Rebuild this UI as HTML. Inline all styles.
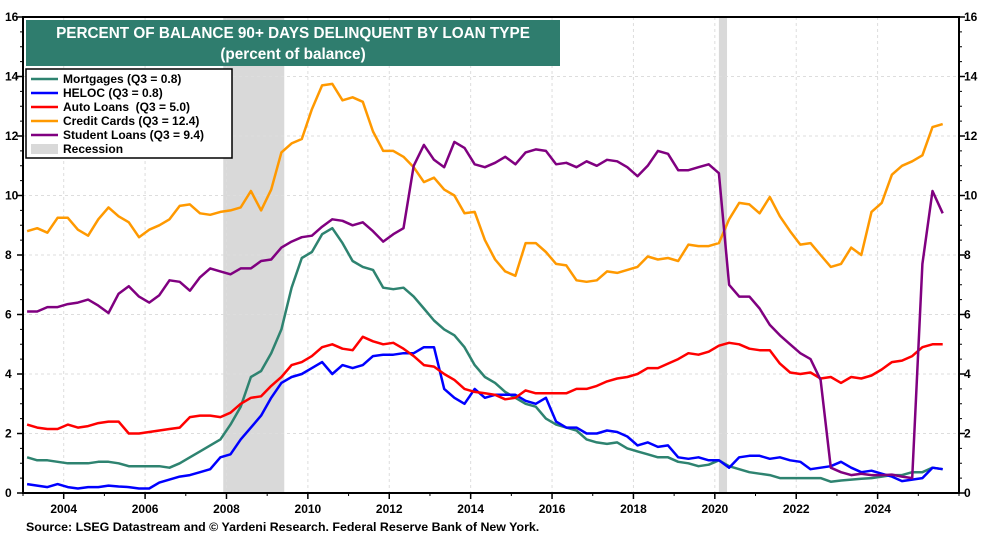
<!DOCTYPE html>
<html><head><meta charset="utf-8"><style>
body{margin:0;background:#fff;font-family:"Liberation Sans",Arial,sans-serif}
svg text{font-family:"Liberation Sans",Arial,sans-serif;font-weight:bold}
</style></head><body>
<svg id="c" width="987" height="551" viewBox="0 0 987 551"></svg>
<script>
const mortgages=[1.2,1.1,1.1,1.05, 1.0,1.0,1.0,1.05, 1.05,1.0,0.9,0.9, 0.9,0.9,0.85,1.0, 1.2,1.4,1.6,1.8, 2.3,2.9,3.9,4.1, 4.7,5.5,6.9,7.9, 8.1,8.7,8.9,8.4, 7.8,7.6,7.5,6.9, 6.85,6.9,6.6,6.2, 5.8,5.5,5.3,4.9, 4.3,3.9,3.7,3.4, 3.2,3.0,2.9,2.5, 2.3,2.2,2.1,1.8, 1.7,1.65,1.7,1.5, 1.4,1.3,1.2,1.2, 1.05,1.0,0.9,0.95, 1.1,0.9,0.8,0.7, 0.65,0.6,0.5,0.5, 0.5,0.5,0.5,0.38, 0.42,0.45,0.48,0.5, 0.55,0.6,0.6,0.7, 0.7,0.85,0.8];
const heloc=[0.3,0.25,0.2,0.3, 0.2,0.15,0.2,0.2, 0.25,0.22,0.2,0.15, 0.15,0.35,0.45,0.55, 0.6,0.7,0.8,1.2, 1.3,1.8,2.2,2.6, 3.2,3.7,3.9,4.0, 4.2,4.4,4.0,4.3, 4.2,4.3,4.6,4.65, 4.65,4.7,4.7,4.9, 4.9,3.5,3.2,3.0, 3.5,3.2,3.3,3.3, 3.3,3.1,3.0,3.2, 2.4,2.2,2.2,2.0, 2.0,2.1,2.05,1.9, 1.6,1.7,1.55,1.6, 1.2,1.15,1.2,1.1, 1.1,0.85,1.2,1.25, 1.25,1.15,1.2,1.1, 1.05,0.8,0.85,0.9, 1.05,0.85,0.7,0.75, 0.65,0.55,0.4,0.45, 0.5,0.85,0.8];
const autoLoans=[2.3,2.2,2.15,2.15, 2.3,2.2,2.25,2.35, 2.4,2.4,2.0,2.0, 2.05,2.1,2.15,2.2, 2.55,2.6,2.6,2.55, 2.7,3.0,3.2,3.25, 3.6,3.9,4.3,4.4, 4.6,4.9,5.0,4.85, 4.8,5.25,5.1,5.0, 5.05,4.85,4.6,4.3, 4.25,4.0,3.8,3.5, 3.4,3.35,3.3,3.15, 3.2,3.45,3.35,3.35, 3.35,3.35,3.5,3.5, 3.6,3.75,3.85,3.9, 4.0,4.2,4.2,4.35, 4.5,4.7,4.65,4.75, 4.95,5.05,5.0,4.85, 4.8,4.8,4.35,4.05, 4.0,4.05,3.85,3.9, 3.7,3.9,3.85,3.95, 4.15,4.4,4.45,4.6, 4.9,5.0,5.0];
const creditCards=[8.8,8.9,8.75,9.25, 9.25,8.85,8.65,9.2, 9.6,9.3,9.1,8.6, 8.85,9.0,9.2,9.65, 9.7,9.4,9.35,9.45, 9.5,9.6,10.15,9.5, 10.2,11.45,11.75,11.9, 12.9,13.7,13.75,13.2, 13.3,13.15,12.15,11.5, 11.5,11.3,10.95,10.45, 10.6,10.2,10.0,9.4, 9.45,8.5,7.85,7.45, 7.3,8.4,8.4,8.1, 7.7,7.65,7.15,7.1, 7.15,7.45,7.4,7.5, 7.6,7.95,7.85,7.9, 7.8,8.35,8.3,8.3, 8.4,9.2,9.75,9.7, 9.4,9.95,9.3,8.8, 8.35,8.4,8.0,7.6, 7.7,8.25,8.0,9.45, 9.75,10.7,11.0,11.15, 11.35,12.3,12.4];
const studentLoans=[6.1,6.1,6.25,6.25, 6.35,6.4,6.5,6.3, 6.05,6.7,6.95,6.6, 6.4,6.65,7.15,7.1, 6.8,7.25,7.55,7.45, 7.35,7.55,7.55,7.8, 7.85,8.25,8.45,8.6, 8.65,8.95,9.2,9.15, 9.0,9.1,8.8,8.45, 8.7,8.9,11.0,11.7, 11.2,10.95,11.8,11.6, 11.05,10.95,11.1,11.3, 11.05,11.45,11.55,11.5, 11.05,11.1,10.95,11.15, 11.0,11.2,11.15,10.95, 10.65,11.0,11.5,11.4, 10.85,10.85,10.95,11.05, 10.75,7.0,6.6,6.6, 6.2,5.65,5.3,5.0, 4.7,4.5,3.8,0.85, 0.7,0.6,0.65,0.6, 0.6,0.62,0.55,0.5, 7.7,10.15,9.4];
const yTicks=[0,2,4,6,8,10,12,14,16];
const xTicks=[2004,2006,2008,2010,2012,2014,2016,2018,2020,2022,2024];
const recessions=[[2007.92,2009.42],[2020.1,2020.3]];
const startYear=2003;

const L=23,R=959,T=17,B=493;
const X=t=>L+(t-2003)/(2026-2003)*(R-L);
const Y=v=>B-v/16*(B-T);
const tq=i=>startYear+Math.floor(i/4)+(i%4)/4+0.1;
const svg=document.getElementById('c');const NS='http://www.w3.org/2000/svg';
function mk(tag,a,p){const e=document.createElementNS(NS,tag);for(const k in a)e.setAttribute(k,a[k]);(p||svg).appendChild(e);return e;}

recessions.forEach(r=>{const e=mk('rect',{x:X(r[0]),y:T,width:X(r[1])-X(r[0]),height:B-T,fill:'#d9d9d9'});

});
yTicks.forEach(v=>{const g=mk('line',{x1:L,x2:R,y1:Y(v),y2:Y(v),stroke:'#ddd','stroke-dasharray':'3,3'});


[[5,'start'],[964,'start']].forEach(p=>{const t=mk('text',{x:p[0],y:Y(v)+4,'font-size':12});t.textContent=v;

});
mk('line',{x1:L-6,x2:L,y1:Y(v),y2:Y(v),stroke:'#000','stroke-width':1.5});
mk('line',{x1:R,x2:R+6,y1:Y(v),y2:Y(v),stroke:'#000','stroke-width':1.5});});
for(let v=0.5;v<16;v+=0.5){if(v%2){mk('line',{x1:L-3,x2:L,y1:Y(v),y2:Y(v),stroke:'#000'});mk('line',{x1:R,x2:R+3,y1:Y(v),y2:Y(v),stroke:'#000'});}}
xTicks.forEach(yr=>{mk('line',{x1:X(yr),x2:X(yr),y1:T,y2:B,stroke:'#ddd','stroke-dasharray':'3,3'});
mk('line',{x1:X(yr),x2:X(yr),y1:B,y2:B+6,stroke:'#000','stroke-width':1.5});
const t=mk('text',{x:X(yr),y:B+20,'font-size':12,'text-anchor':'middle'});t.textContent=yr;

});
for(let yr=2003;yr<=2026;yr++)mk('line',{x1:X(yr),x2:X(yr),y1:B,y2:B+3,stroke:'#000'});

const series=[[mortgages,'#2e8370','mortgages-line'],[heloc,'#0000ff','heloc-line'],[autoLoans,'#ff0000','auto-loans-line'],[creditCards,'#ff9900','credit-cards-line'],[studentLoans,'#800080','student-loans-line']];
series.forEach(s=>{const pts=s[0].map((v,i)=>X(tq(i)).toFixed(1)+','+Y(v).toFixed(1)).join(' ');
const p=mk('polyline',{points:pts,fill:'none',stroke:s[1],'stroke-width':2.5,'stroke-linejoin':'round'});

});
mk('rect',{x:L,y:T,width:R-L,height:B-T,fill:'none',stroke:'#000','stroke-width':2});

const tb=mk('rect',{x:26,y:20,width:534,height:46,fill:'#2f7d6e'});


let t=mk('text',{x:293,y:38,'font-size':15.3,fill:'#fff','text-anchor':'middle'});t.textContent='PERCENT OF BALANCE 90+ DAYS DELINQUENT BY LOAN TYPE';


t=mk('text',{x:293,y:59,'font-size':15.3,fill:'#fff','text-anchor':'middle'});t.textContent='(percent of balance)';



const lg=mk('rect',{x:26,y:69,width:206,height:89,fill:'#fff',stroke:'#000','stroke-width':1.5});


const labels=['Mortgages (Q3 = 0.8)','HELOC (Q3 = 0.8)','Auto Loans  (Q3 = 5.0)','Credit Cards (Q3 = 12.4)','Student Loans (Q3 = 9.4)','Recession'];
const cols=['#2e8370','#0000ff','#ff0000','#ff9900','#800080','#d9d9d9'];
labels.forEach((l,i)=>{const y=79+i*14;
if(i<5)mk('line',{x1:31,x2:58,y1:y,y2:y,stroke:cols[i],'stroke-width':2.5});else mk('rect',{x:31,y:y-5,width:27,height:10,fill:cols[i]});
const e=mk('text',{x:63,y:y+4,'font-size':12});e.textContent=l.replace(/ /g,'\u00a0');

});

t=mk('text',{x:26,y:531,'font-size':12.4});t.textContent='Source: LSEG Datastream and © Yardeni Research. Federal Reserve Bank of New York.';


</script>
</body></html>
